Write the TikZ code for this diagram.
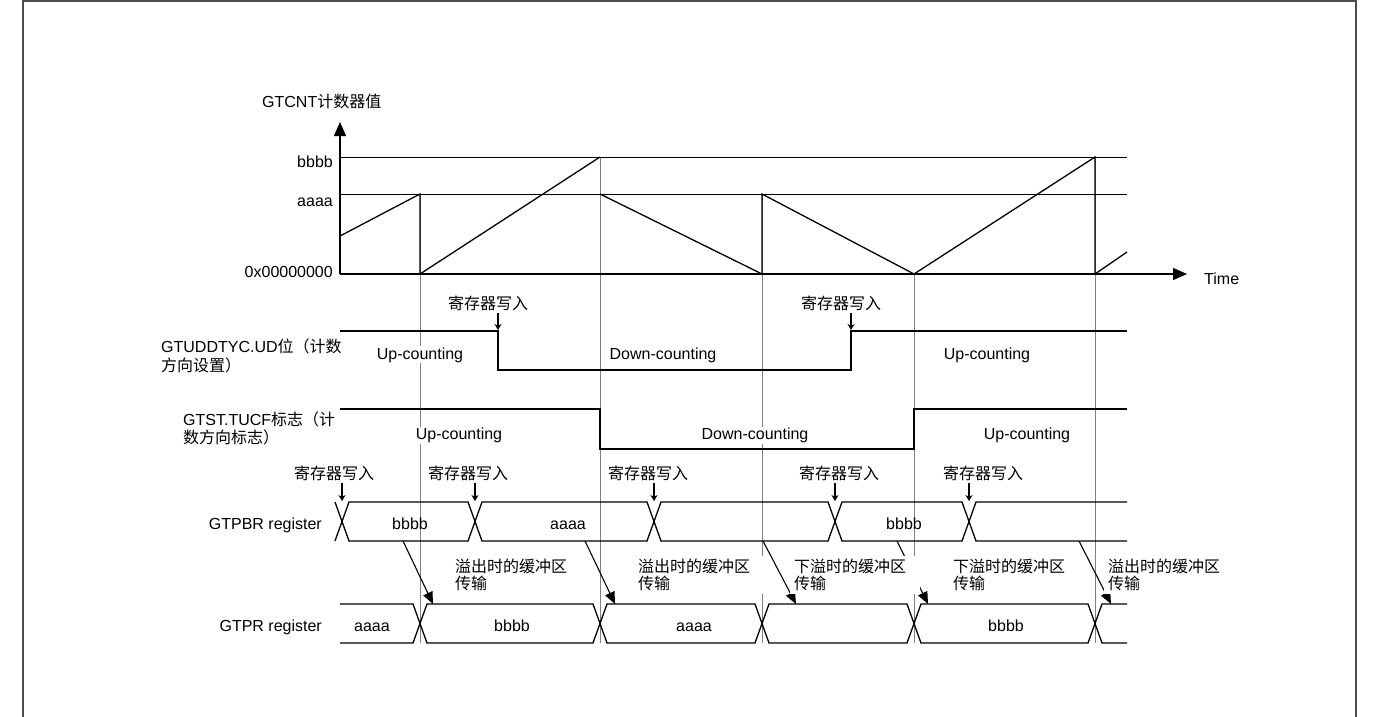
\documentclass[tikz,border=0pt]{standalone}
\usepackage{fontspec}
\setmainfont{Liberation Sans}
\newfontfamily\cjk{Noto Sans CJK SC}
\usepackage{tikz}
\usetikzlibrary{arrows.meta}

\begin{document}
\begin{tikzpicture}[
    x=1pt, y=-1pt,
    lbl/.style={inner sep=0pt, font=\fontsize{16}{17}\selectfont},
    cjklbl/.style={inner sep=0pt, font=\cjk\fontsize{16}{17}\selectfont},
    cnt/.style={lbl, fill=white, inner sep=1pt, anchor=base},
    note/.style={anchor=west, fill=white, inner xsep=4pt, inner ysep=3pt, text width=122pt, align=left, font=\cjk\fontsize{16}{17}\selectfont},
    edgeline/.style={draw=black!70, line width=1.5pt},
    guide/.style={draw=black!50, line width=0.9pt},
    lvl/.style={line width=1pt},
    axisline/.style={line width=1.3pt, -{Triangle[length=14pt,width=12pt]}},
    wave/.style={line width=1.3pt},
    bus/.style={line width=1.3pt},
    wrarrow/.style={line width=1.3pt, -{Stealth[length=6pt,width=7pt]}, shorten <=3pt},
    xfer/.style={line width=1.1pt, -{Triangle[length=12pt,width=10pt]}}
]
\useasboundingbox (0,0) rectangle (1376,717);
\draw[edgeline] (23,717) -- (23,1) -- (1356,1) -- (1356,717);

% time marks
\draw[guide] (420,194) -- (420,643);
\draw[guide] (600,157) -- (600,643);
\draw[guide] (762,194) -- (762,643);
\draw[guide] (914,274) -- (914,643);
\draw[guide] (1095,157) -- (1095,643);

% counter axes and levels
\draw[lvl] (340,157) -- (1127,157);
\draw[lvl] (340,194) -- (1127,194);
\coordinate (org) at (340,274);
\coordinate (ytip) at (340,122);
\coordinate (xtip) at (1187,274);
\draw[axisline] (org) -- (ytip);
\draw[axisline] (org) -- (xtip);

\node[lbl, anchor=base west] (ylbl) at (262,107) {GTCNT{\cjk 计数器值}};
\node[lbl, anchor=base east] (vb) at (333,167) {bbbb};
\node[lbl, anchor=base east] (va) at (333,206) {aaaa};
\node[lbl, anchor=base east] (v0) at (333,277) {0x00000000};
\node[lbl, anchor=base west] (tlbl) at (1204,284) {Time};

\draw[wave] (340,236) -- (420,194) -- (420,274) -- (600,157);
\draw[wave] (600,194) -- (762,274) -- (762,194) -- (914,274) -- (1095,157) -- (1095,274) -- (1127,252);

% count direction setting
\draw[wave] (340,331) -- (498,331) -- (498,370) -- (851,370) -- (851,331) -- (1127,331);
\node[lbl, anchor=west, align=left] (udlbl) at (161,355.5) {GTUDDTYC.UD{\cjk 位（计数}\\[2pt]{\cjk 方向设置）}};
\node[cnt] (ud1) at (420,359) {Up-counting};
\node[cnt] (ud2) at (663,359) {Down-counting};
\node[cnt] (ud3) at (987,359) {Up-counting};
\node[cjklbl, anchor=base] (wu1) at (488,309) {寄存器写入};
\node[cjklbl, anchor=base] (wu2) at (841,309) {寄存器写入};
\coordinate (su1) at (498,330);
\coordinate (su2) at (851,330);
\draw[wrarrow] (wu1.south -| su1) -- (su1);
\draw[wrarrow] (wu2.south -| su2) -- (su2);

% count direction flag
\draw[wave] (340,409) -- (600,409) -- (600,449) -- (914,449) -- (914,409) -- (1127,409);
\node[lbl, anchor=west, align=left] (tflbl) at (183,428.5) {GTST.TUCF{\cjk 标志（计}\\[1pt]{\cjk 数方向标志）}};
\node[cnt] (tf1) at (459,439.5) {Up-counting};
\node[cnt] (tf2) at (755,439.5) {Down-counting};
\node[cnt] (tf3) at (1027,439.5) {Up-counting};

% GTPBR
\draw[bus] (335,541) -- (349,502) -- (468,502) -- (482,541) -- (647,541) -- (661,502) -- (828,502) -- (842,541) -- (962,541) -- (976,502) -- (1127,502);
\draw[bus] (335,502) -- (349,541) -- (468,541) -- (482,502) -- (647,502) -- (661,541) -- (828,541) -- (842,502) -- (962,502) -- (976,541) -- (1127,541);
\node[lbl, anchor=base east] (pbr) at (322,529) {GTPBR register};
\node[lbl, anchor=base] (pb1) at (410,529) {bbbb};
\node[lbl, anchor=base] (pb2) at (568,529) {aaaa};
\node[lbl, anchor=base] (pb3) at (904,529) {bbbb};

\node[cjklbl, anchor=base] (wb1) at (334,479) {寄存器写入};
\node[cjklbl, anchor=base] (wb2) at (468,479) {寄存器写入};
\node[cjklbl, anchor=base] (wb3) at (648,479) {寄存器写入};
\node[cjklbl, anchor=base] (wb4) at (839,479) {寄存器写入};
\node[cjklbl, anchor=base] (wb5) at (983,479) {寄存器写入};
\coordinate (sb1) at (342,501);
\coordinate (sb2) at (475,501);
\coordinate (sb3) at (654,501);
\coordinate (sb4) at (835,501);
\coordinate (sb5) at (969,501);
\draw[wrarrow] (wb1.south -| sb1) -- (sb1);
\draw[wrarrow] (wb2.south -| sb2) -- (sb2);
\draw[wrarrow] (wb3.south -| sb3) -- (sb3);
\draw[wrarrow] (wb4.south -| sb4) -- (sb4);
\draw[wrarrow] (wb5.south -| sb5) -- (sb5);

% GTPR
\draw[bus] (340,604) -- (413,604) -- (427,643) -- (593,643) -- (607,604) -- (755,604) -- (769,643) -- (907,643) -- (921,604) -- (1088,604) -- (1102,643) -- (1127,643);
\draw[bus] (340,643) -- (413,643) -- (427,604) -- (593,604) -- (607,643) -- (755,643) -- (769,604) -- (907,604) -- (921,643) -- (1088,643) -- (1102,604) -- (1127,604);
\node[lbl, anchor=base east] (pr) at (322,631) {GTPR register};
\node[lbl, anchor=base] (pr1) at (372,631) {aaaa};
\node[lbl, anchor=base] (pr2) at (512,631) {bbbb};
\node[lbl, anchor=base] (pr3) at (694,631) {aaaa};
\node[lbl, anchor=base] (pr4) at (1006,631) {bbbb};

% buffer transfer
\coordinate (tb1) at (403,541);
\coordinate (tb2) at (585,541);
\coordinate (tb3) at (763,541);
\coordinate (tb4) at (897,541);
\coordinate (tb5) at (1079,541);
\coordinate (tr1) at (433,604);
\coordinate (tr2) at (615,604);
\coordinate (tr3) at (796,604);
\coordinate (tr4) at (928,604);
\coordinate (tr5) at (1111,604);
\draw[xfer] (tb1) -- (tr1);
\draw[xfer] (tb2) -- (tr2);
\draw[xfer] (tb3) -- (tr3);
\draw[xfer] (tb4) -- (tr4);
\draw[xfer] (tb5) -- (tr5);
\node[note] (n1) at (451,575) {溢出时的缓冲区\\传输};
\node[note] (n2) at (634,575) {溢出时的缓冲区\\传输};
\node[note] (n3) at (790,575) {下溢时的缓冲区\\传输};
\node[note] (n4) at (949,575) {下溢时的缓冲区\\传输};
\node[note] (n5) at (1104,575) {溢出时的缓冲区\\传输};
\end{tikzpicture}
\end{document}
